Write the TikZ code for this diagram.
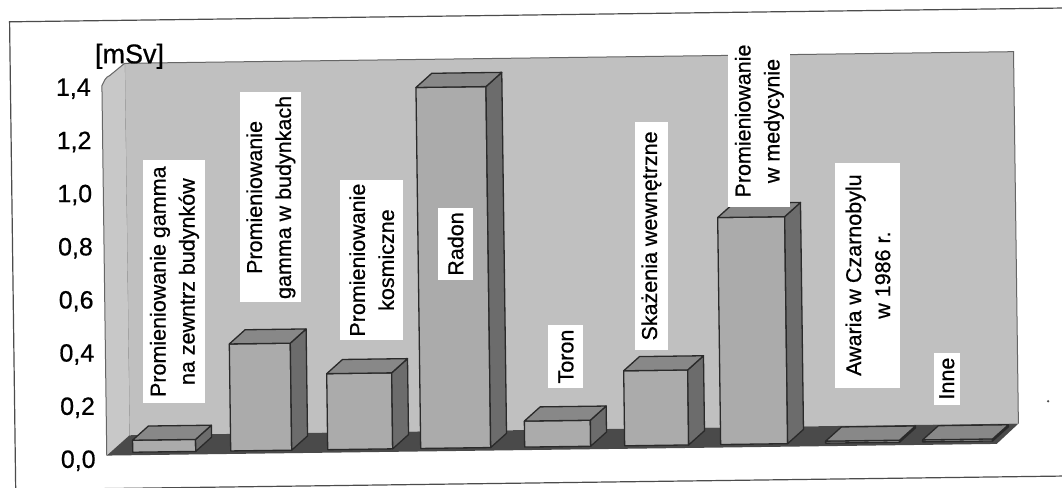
\documentclass[tikz,border=0pt]{standalone}
\usepackage{fontspec}
\setmainfont{Liberation Sans}[FakeBold=0.6]
\definecolor{wallc}{HTML}{C0C0C0}
\definecolor{sidewallc}{HTML}{C8C8C8}
\definecolor{floorc}{HTML}{4A4A4A}
\definecolor{facec}{HTML}{ABABAB}
\definecolor{topc}{HTML}{888888}
\definecolor{sidec}{HTML}{6C6C6C}
\definecolor{edgec}{HTML}{2A2A2A}
\tikzset{
  barface/.style={fill=facec, draw=edgec, line width=1.3pt, line join=round},
  barside/.style={fill=sidec, draw=edgec, line width=1.3pt, line join=round},
  bartop/.style={fill=topc, draw=edgec, line width=1.3pt, line join=round},
  lab/.style={fill=white, rotate=90, align=center, inner sep=0pt,
    font=\fontsize{21.5}{29}\selectfont},
  tick/.style={anchor=east, inner sep=0pt, font=\fontsize{25}{28}\selectfont},
  frameline/.style={draw=black!70, line width=1.2pt},
  walledge/.style={draw=black!60, line width=1pt}
}
\newcommand\drawbar[3]{%
  \pgfmathsetmacro\bw{#1+#2}%
  \pgfmathsetmacro\bt{447-#3}%
  \pgfmathsetmacro\btb{433-#3}%
  \filldraw[barface] (#1,447) rectangle (\bw,\bt);
  \filldraw[barside] (\bw,447) -- (\bw+16,433) -- (\bw+16,\btb) -- (\bw,\bt) -- cycle;
  \filldraw[bartop] (#1,\bt) -- (#1+16,\btb) -- (\bw+16,\btb) -- (\bw,\bt) -- cycle;
}
\begin{document}
\begin{tikzpicture}[x=1pt,y=-1pt]
\useasboundingbox (0,0) rectangle (1062,487);
\fill[white] (0,0) rectangle (1062,487);
\begin{scope}[rotate around={0.75:(531,243)}]
  % frame
  \draw[frameline] (1100,15) -- (12.5,15) -- (12.5,483) -- (1100,483);
  % back wall
  \fill[wallc] (127,58) rectangle (1016,430);
  \draw[walledge] (127,58) -- (1016,58) -- (1016,430);
  \draw[black!45, line width=0.8pt] (127,58) -- (127,430);
  % left wall
  \fill[sidewallc] (104,80) to[out=60,in=200] (112,70) -- (127,58) -- (127,430) -- (104,450) -- cycle;
  \draw[walledge] (104,450) -- (104,80) to[out=60,in=200] (112,70) -- (127,58);
  % floor
  \fill[floorc] (127,430) -- (1016,430) -- (994,450) -- (104,450) -- cycle;
  % bars
  \drawbar{130}{63}{12}
  \drawbar{228}{61}{107}
  \drawbar{325}{65}{76}
  \drawbar{418}{70}{361}
  \drawbar{522}{66}{26}
  \drawbar{622}{64}{75}
  \drawbar{718}{67}{227}
  \drawbar{823}{74}{2}
  \drawbar{920}{70}{2}
  % data labels
  \node[lab, minimum width=243, minimum height=62] (l1) at (174,277)
    {Promieniowanie gamma\\na zewntrz budynków};
  \node[lab, minimum width=210, minimum height=61] (l2) at (271.5,194)
    {Promieniowanie\\gamma w budynkach};
  \node[lab, minimum width=160, minimum height=63] (l3) at (371.5,258)
    {Promieniowanie\\kosmiczne};
  \node[lab, minimum width=72, minimum height=35] (l4) at (455.5,243) {Radon};
  \node[lab, minimum width=63, minimum height=35] (l5) at (564.5,357) {Toron};
  \node[lab, minimum width=228, minimum height=33] (l6) at (651.5,237.5)
    {Skażenia wewnętrzne};
  \node[lab, minimum width=172, minimum height=62] (l7) at (761,124)
    {Promieniowanie\\w medycynie};
  \node[lab, minimum width=225, minimum height=65] (l8) at (867.5,279.5)
    {Awaria w Czarnobylu\\w 1986 r.};
  \node[lab, minimum width=52, minimum height=26] (l9) at (945,384) {Inne};
  % axis
  \node[tick] (t0) at (93,455) {0,0};
  \node[tick] (t1) at (93,402) {0,2};
  \node[tick] (t2) at (93,348.7) {0,4};
  \node[tick] (t3) at (93,295.6) {0,6};
  \node[tick] (t4) at (93,242.5) {0,8};
  \node[tick] (t5) at (93,189.3) {1,0};
  \node[tick] (t6) at (93,136.2) {1,2};
  \node[tick] (t7) at (93,83) {1,4};
  \node[inner sep=0pt, font=\fontsize{27}{30}\selectfont] (unit) at (132,51) {[mSv]};
  % speck
  \fill[black!70] (1046,408) circle (1.3);
\end{scope}
\end{tikzpicture}
\end{document}
